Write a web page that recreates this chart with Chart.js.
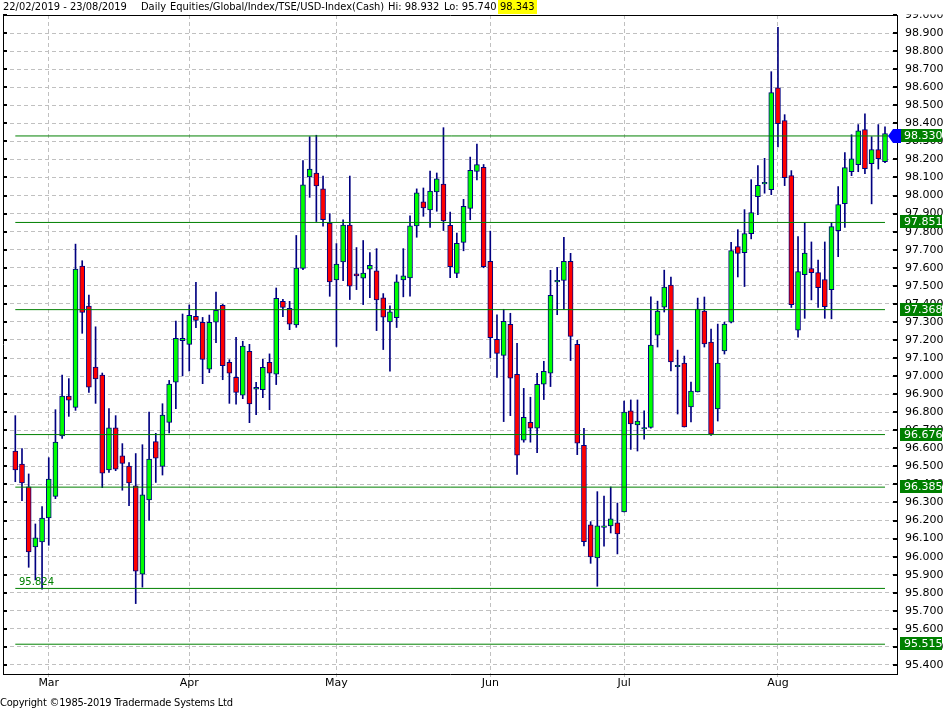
<!DOCTYPE html>
<html><head><meta charset="utf-8">
<script src="https://cdn.jsdelivr.net/npm/chart.js@4"></script>
<style>
html,body{margin:0;padding:0;background:#fff;}
#wrap{position:relative;width:951px;height:710px;overflow:hidden;background:#fff;}
canvas{position:absolute;left:0;top:0;}
.t{position:absolute;font-family:'DejaVu Sans Condensed','DejaVu Sans',sans-serif;font-size:11px;color:#000;white-space:pre;line-height:14px;}
.hl{background:#ffff00;padding:0 2px;}
</style></head><body>
<div id="wrap">
<canvas id="c" width="951" height="710"></canvas>
<div class="t" style="left:3px;top:0px">22/02/2019 - 23/08/2019</div>
<div class="t" style="left:141px;top:0px">Daily</div>
<div class="t" style="left:170px;top:0px">Equities/Global/Index/TSE/USD-Index(Cash)</div>
<div class="t" style="left:388px;top:0px">Hi: 98.932</div>
<div class="t" style="left:444px;top:0px">Lo: 95.740</div>
<div class="t hl" style="left:498px;top:0px">98.343</div>
<div class="t" style="left:0px;top:696px;letter-spacing:-0.2px">Copyright ©1985-2019 Tradermade Systems Ltd</div>
</div>
<script>
// ---- data (one entry per trading day, 22/02/2019 .. 23/08/2019) ----
const openP = [96.585,96.513,96.386,96.054,96.082,96.214,96.334,96.668,96.890,96.827,
97.609,97.388,97.050,97.006,96.480,96.713,96.558,96.502,96.392,95.903,
96.314,96.637,96.500,96.744,96.966,97.196,97.176,97.331,97.298,97.038,
97.298,97.392,97.076,96.993,96.894,97.137,96.927,96.925,97.076,97.010,
97.414,97.375,97.283,97.597,98.103,98.125,98.037,97.848,97.533,97.632,
97.837,97.566,97.542,97.592,97.583,97.433,97.300,97.323,97.533,97.544,
97.832,97.965,97.920,98.020,98.064,97.835,97.569,97.741,97.929,98.134,
98.156,97.635,97.204,97.115,97.287,97.010,96.645,96.744,96.711,96.955,
97.016,97.522,97.530,97.635,97.176,96.617,96.176,95.993,96.162,96.170,
96.187,96.248,96.807,96.729,96.707,96.716,97.227,97.382,97.504,97.052,
97.072,96.829,96.912,97.360,97.189,96.818,97.139,97.299,97.717,97.684,
97.789,97.994,98.065,98.033,98.597,98.415,98.110,97.255,97.562,97.596,
97.573,97.535,97.479,97.806,97.955,98.132,98.171,98.365,98.177,98.254,
98.188];
const highP = [96.781,96.598,96.458,96.181,96.277,96.548,96.814,97.006,96.986,97.731,
97.639,97.449,97.273,97.017,96.820,96.781,96.626,96.521,96.571,96.620,
96.801,96.683,96.847,96.976,97.305,97.344,97.394,97.519,97.325,97.338,
97.466,97.397,97.091,97.215,97.193,97.176,96.966,97.093,97.123,97.488,
97.425,97.414,97.779,98.193,98.326,98.334,98.108,97.900,97.734,97.865,
98.108,97.712,97.751,97.684,97.706,97.457,97.389,97.561,97.706,97.887,
98.037,98.042,98.136,98.125,98.376,97.908,97.792,97.979,98.213,98.285,
98.172,97.803,97.340,97.370,97.348,97.182,96.932,96.883,97.016,97.082,
97.586,97.602,97.768,97.680,97.198,96.711,96.194,96.360,96.336,96.386,
96.297,96.862,96.868,96.868,96.807,97.439,97.415,97.587,97.548,97.144,
97.111,96.967,97.432,97.438,97.261,97.288,97.299,97.741,97.811,97.922,
98.088,98.166,98.206,98.686,98.932,98.448,98.138,97.773,97.850,97.743,
97.643,97.743,97.850,98.049,98.238,98.337,98.393,98.453,98.326,98.393,
98.381];
const lowP = [96.415,96.310,95.941,95.871,95.820,96.063,96.321,96.655,96.777,96.810,
97.237,96.910,96.849,96.382,96.467,96.476,96.368,96.283,95.740,95.831,
96.201,96.411,96.452,96.685,96.820,97.001,97.028,97.268,96.958,97.019,
97.185,96.980,96.849,96.844,96.875,96.742,96.787,96.881,96.814,96.953,
97.329,97.257,97.270,97.590,97.990,97.856,97.830,97.442,97.164,97.529,
97.424,97.479,97.396,97.435,97.252,97.147,97.027,97.269,97.439,97.442,
97.769,97.885,97.824,97.913,97.806,97.545,97.545,97.694,97.866,98.087,
97.600,97.102,96.992,96.748,96.781,96.456,96.634,96.634,96.576,96.870,
96.942,97.340,97.370,97.086,96.565,96.060,95.963,95.836,96.058,96.131,
96.015,96.248,96.594,96.585,96.650,96.711,97.161,97.355,97.028,96.790,
96.718,96.746,96.912,97.161,96.672,96.751,97.122,97.295,97.549,97.496,
97.760,97.894,98.013,98.005,98.269,98.055,97.380,97.216,97.320,97.422,
97.380,97.320,97.317,97.662,97.823,98.110,98.132,98.121,97.954,98.147,
98.182];
const closeP = [96.480,96.408,96.026,96.104,96.214,96.430,96.635,96.890,96.866,97.593,
97.353,96.938,96.984,96.463,96.713,96.484,96.517,96.408,95.919,96.342,
96.541,96.546,96.784,96.956,97.209,97.209,97.337,97.309,97.093,97.298,
97.364,97.058,97.016,96.910,97.166,96.846,96.938,97.049,97.016,97.431,
97.381,97.287,97.598,98.059,98.147,98.053,97.867,97.522,97.621,97.837,
97.498,97.555,97.570,97.614,97.422,97.327,97.356,97.522,97.555,97.832,
98.015,97.931,98.025,98.092,97.859,97.606,97.735,97.940,98.139,98.172,
97.606,97.213,97.126,97.303,96.988,96.562,96.772,96.711,96.955,97.027,
97.447,97.530,97.635,97.220,96.628,96.083,95.999,96.170,96.170,96.209,
96.126,96.801,96.735,96.751,96.715,97.172,97.360,97.493,97.078,97.060,
96.718,96.917,97.371,97.178,96.678,97.072,97.288,97.695,97.679,97.789,
97.906,98.056,98.073,98.570,98.398,98.099,97.396,97.579,97.682,97.573,
97.490,97.385,97.828,97.950,98.155,98.204,98.359,98.149,98.254,98.204,
98.343];

const monthLabels = ['Mar','Apr','May','Jun','Jul','Aug'];
const monthIdx = [5, 26, 48, 71, 91, 114];
const yTicks = [95.4,95.5,95.6,95.7,95.8,95.9,96.0,96.1,96.2,96.3,96.4,96.5,96.6,96.7,96.8,96.9,
97.0,97.1,97.2,97.3,97.4,97.5,97.6,97.7,97.8,97.9,98.0,98.1,98.2,98.3,98.4,98.5,98.6,98.7,98.8,98.9,99.0];
const levels = [98.330, 97.851, 97.368, 96.676, 96.385, 95.824, 95.515];
const levelBoxLabels = ['98.330','97.851','97.368','96.676','96.385','','95.515'];
const levelLeftLabels = ['','','','','','95.824',''];
const lastLevel = 98.330;

const decor = {
  id: 'decor',
  afterDraw(chart) {
    const {ctx, chartArea: a, scales: {y}} = chart;
    ctx.save();
    // clip area above plot on the right
    ctx.fillStyle = '#fff';
    ctx.fillRect(a.right + 1, 0, chart.width - a.right, a.top - 0.5);
    // frame top and left
    ctx.strokeStyle = '#000'; ctx.lineWidth = 1;
    const ty = Math.round(a.top) + 0.5;
    ctx.beginPath();
    ctx.moveTo(a.left, ty); ctx.lineTo(a.right + 1, ty);
    ctx.moveTo(Math.round(a.left) + 0.5, a.top); ctx.lineTo(Math.round(a.left) + 0.5, a.bottom);
    ctx.stroke();
    // inner tick marks
    ctx.fillStyle = '#000';
    yTicks.forEach(v => {
      const py = Math.round(y.getPixelForValue(v));
      ctx.fillRect(a.right - 4, py - 1, 4, 2);
      ctx.fillRect(a.left, py - 1, 4, 2);
    });
    // level labels
    ctx.font = '11px "DejaVu Sans"';
    ctx.textBaseline = 'middle';
    ctx.textAlign = 'left';
    levels.forEach((lv, i) => {
      const py = Math.round(y.getPixelForValue(lv));
      if (levelBoxLabels[i]) {
        ctx.fillStyle = '#008000';
        ctx.fillRect(a.right + 3, py - 7, 42, 13);
        ctx.fillStyle = '#fff';
        ctx.fillText(levelBoxLabels[i], a.right + 7, py);
      }
      if (levelLeftLabels[i]) {
        ctx.save();
        ctx.font = '10px "DejaVu Sans"';
        ctx.fillStyle = '#008000';
        ctx.textBaseline = 'alphabetic';
        ctx.fillText(levelLeftLabels[i], 19, py - 3);
        ctx.restore();
      }
    });
    // blue arrow at last level
    const ay = Math.round(y.getPixelForValue(lastLevel));
    ctx.fillStyle = '#0000ff';
    ctx.beginPath();
    ctx.moveTo(a.right - 9, ay);
    ctx.lineTo(a.right - 4, ay - 7);
    ctx.lineTo(a.right + 4, ay - 7);
    ctx.lineTo(a.right + 4, ay + 7);
    ctx.lineTo(a.right - 4, ay + 7);
    ctx.closePath();
    ctx.fill();
    ctx.restore();
  }
};

const idx = openP.map((_, i) => i);
const datasets = [
  {
    type: 'bar', label: 'wick', order: 3, grouped: false,
    data: idx.map(i => ({x: i, y: [lowP[i], highP[i]]})),
    backgroundColor: '#000080', borderWidth: 0, barThickness: 1
  },
  {
    type: 'bar', label: 'body', order: 2, grouped: false,
    data: idx.map(i => ({x: i, y: [Math.min(openP[i], closeP[i]), Math.max(openP[i], closeP[i])]})),
    backgroundColor: idx.map(i => closeP[i] >= openP[i] ? '#00ff00' : '#ff0000'),
    borderColor: '#000080', borderWidth: 1, borderSkipped: false, barThickness: 5
  }
];
levels.forEach((lv, i) => {
  datasets.push({
    type: 'line', label: 'lvl' + i, order: 1,
    data: [{x: 0, y: lv}, {x: i === 0 ? 130.5 : 130, y: lv}],
    borderColor: '#008000', borderWidth: 1, pointRadius: 0, fill: false
  });
});

new Chart(document.getElementById('c'), {
  type: 'bar',
  data: {datasets},
  options: {
    responsive: false, animation: false, devicePixelRatio: 1,
    layout: {padding: {left: 3, top: 15, right: 0, bottom: 0}},
    plugins: {legend: {display: false}, tooltip: {enabled: false}, title: {display: false}},
    scales: {
      x: {
        type: 'linear', min: -1.839, max: 131.794, offset: false,
        afterFit: s => { s.height = 36; },
        afterBuildTicks: s => { s.ticks = monthIdx.map(v => ({value: v})); },
        ticks: {
          callback: (v, i) => monthLabels[i],
          font: {family: 'DejaVu Sans', size: 11}, color: '#000', padding: 0,
          maxRotation: 0, autoSkip: false
        },
        grid: {offset: false, color: '#c0c0c0', lineWidth: 1, drawTicks: true, tickLength: 3, tickColor: '#c0c0c0'},
        border: {display: true, color: '#000', width: 1, dash: [4, 3]}
      },
      y: {
        type: 'linear', position: 'right', min: 95.35, max: 99.0,
        afterFit: s => { s.width = 54; },
        afterBuildTicks: s => { s.ticks = yTicks.map(v => ({value: v})); },
        ticks: {
          callback: v => Number(v).toFixed(3),
          font: {family: 'DejaVu Sans', size: 11}, color: '#000', padding: 8
        },
        grid: {offset: false, color: '#c0c0c0', lineWidth: 1, drawTicks: false},
        border: {display: true, color: '#000', width: 1, dash: [4, 3]}
      }
    }
  },
  plugins: [decor]
});
</script>
</body></html>
